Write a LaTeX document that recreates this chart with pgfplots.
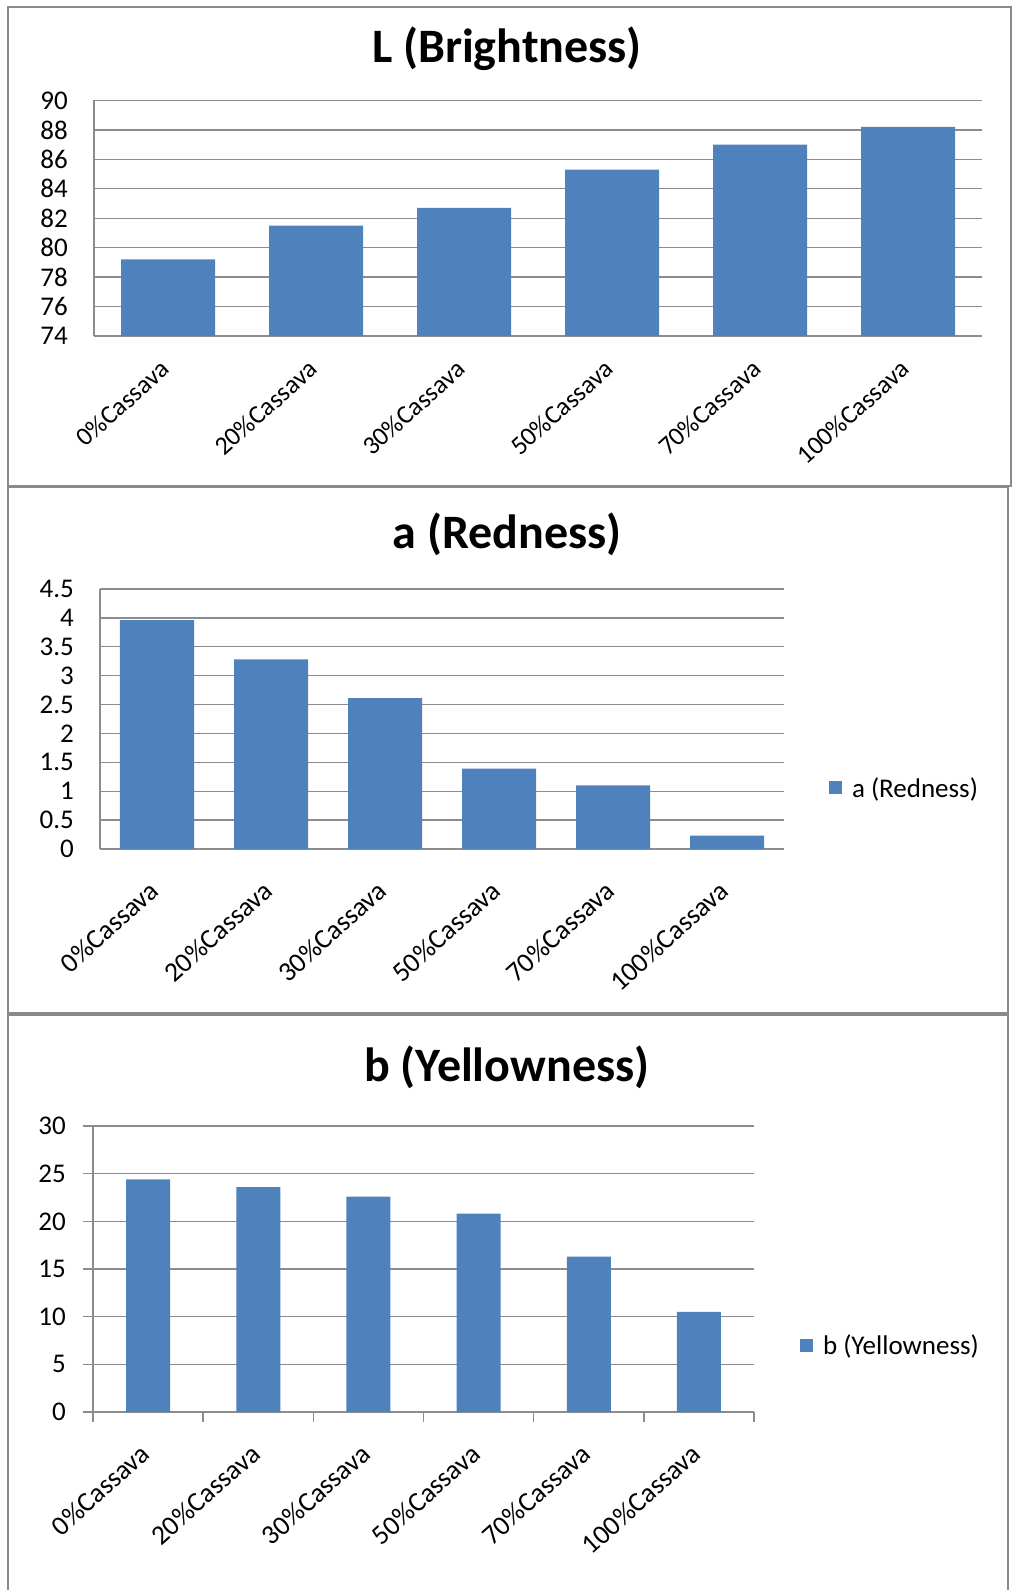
\documentclass[border=0pt]{standalone}
\usepackage{fontspec}
\setmainfont{Carlito}
\usepackage{pgfplots}
\pgfplotsset{compat=1.18}

\definecolor{barblue}{HTML}{4F81BD}
\definecolor{gridgray}{HTML}{8C8C8C}
\definecolor{framegray}{HTML}{8A8A8A}

\newcommand{\ticksize}{\fontsize{27}{32}\selectfont}
\newcommand{\titlesize}{\bfseries\fontsize{48}{56}\selectfont}

\pgfplotsset{
  colorpanel/.style={
    scale only axis,
    axis lines*=left,
    xmin=-0.5, xmax=5.5,
    enlarge x limits=false,
    ymajorgrids,
    grid style={gridgray, line width=1.4pt},
    axis line style={gridgray, line width=1.6pt},
    tick style={gridgray, line width=1.4pt},
    tick label style={font=\ticksize, text=black,
      /pgf/number format/assume math mode=true},
    yticklabel style={inner sep=0pt, xshift=-26pt},
    ybar, bar shift=0pt,
    legend image code/.code={\draw[##1,draw=none] (0pt,-6.5pt) rectangle (13pt,6.5pt);},
    legend style={draw=none, fill=none, inner sep=0pt, outer sep=0pt,
      font=\ticksize, nodes={inner sep=0pt},
      /tikz/every odd column/.append style={column sep=10pt}},
  },
  % slanted category names, ending under the bar centre
  % #1 = vertical offset, #2 = font size
  catstyle/.style 2 args={
    xticklabel style={yshift=#1, xshift=-9pt, rotate=42, anchor=north east,
      inner sep=0pt, font=\fontsize{#2}{#2}\selectfont},
  },
  catlabels/.style={
    xtick={0,...,5},
    xticklabels={0\%Cassava,20\%Cassava,30\%Cassava,50\%Cassava,70\%Cassava,100\%Cassava},
  },
}

\begin{document}
\begin{tikzpicture}
\useasboundingbox (0,0) rectangle (1013pt,1590pt);

% L (Brightness)
\begin{axis}[colorpanel, catlabels, catstyle={-22pt}{26},
  at={(94pt,1254pt)}, anchor=south west,
  width=888pt, height=235.5pt,
  ymin=74, ymax=90, ytick={74,76,...,90},
  major tick length=0pt,
  bar width=94pt,
  every axis title/.style={at={(0.465,1.219)}, anchor=center, font=\titlesize},
  title={L (Brightness)},
]
\addplot[fill=barblue, draw=none] coordinates {
  (0,79.2) (1,81.5) (2,82.7) (3,85.3) (4,87.0) (5,88.2)};
\end{axis}

% a (Redness)
\begin{axis}[colorpanel, catlabels, catstyle={-30pt}{27.5},
  at={(100pt,741pt)}, anchor=south west,
  width=684pt, height=260pt,
  ymin=0, ymax=4.5, ytick={0,0.5,...,4.5},
  major tick length=0pt,
  bar width=74pt,
  every axis title/.style={at={(0.595,1.2115)}, anchor=center, font=\titlesize},
  title={a (Redness)},
  legend style={at={(1.0658,0.2346)}, anchor=west},
]
\addplot[fill=barblue, draw=none] coordinates {
  (0,3.96) (1,3.28) (2,2.61) (3,1.39) (4,1.10) (5,0.23)};
\addlegendentry{a (Redness)}
\end{axis}

% b (Yellowness): tick marks between categories, names as extra ticks
\begin{axis}[colorpanel, catstyle={-30pt}{27.5},
  at={(93pt,178pt)}, anchor=south west,
  width=661pt, height=286pt,
  ymin=0, ymax=30, ytick={0,5,...,30},
  tick align=outside,
  major tick length=10pt,
  xtick={-0.5,0.5,...,5.5}, xticklabels={},
  yticklabel style={xshift=9pt},
  extra x ticks={0,...,5},
  extra x tick labels={0\%Cassava,20\%Cassava,30\%Cassava,50\%Cassava,70\%Cassava,100\%Cassava},
  extra x tick style={major tick length=0pt, grid=none},
  bar width=44pt,
  every axis title/.style={at={(0.626,1.206)}, anchor=center, font=\titlesize},
  title={b (Yellowness)},
  legend style={at={(1.0696,0.234)}, anchor=west},
]
\addplot[fill=barblue, draw=none] coordinates {
  (0,24.4) (1,23.6) (2,22.6) (3,20.8) (4,16.3) (5,10.5)};
\addlegendentry{b (Yellowness)}
\end{axis}

% panel frames
\draw[framegray, line width=2.5pt] (8pt,1104pt) rectangle (1011pt,1583pt);
\draw[framegray, line width=2.5pt] (8pt,577pt) rectangle (1008pt,1103pt);
\draw[framegray, line width=2.5pt] (8pt,-5pt) rectangle (1008pt,575pt);
\end{tikzpicture}
\end{document}
